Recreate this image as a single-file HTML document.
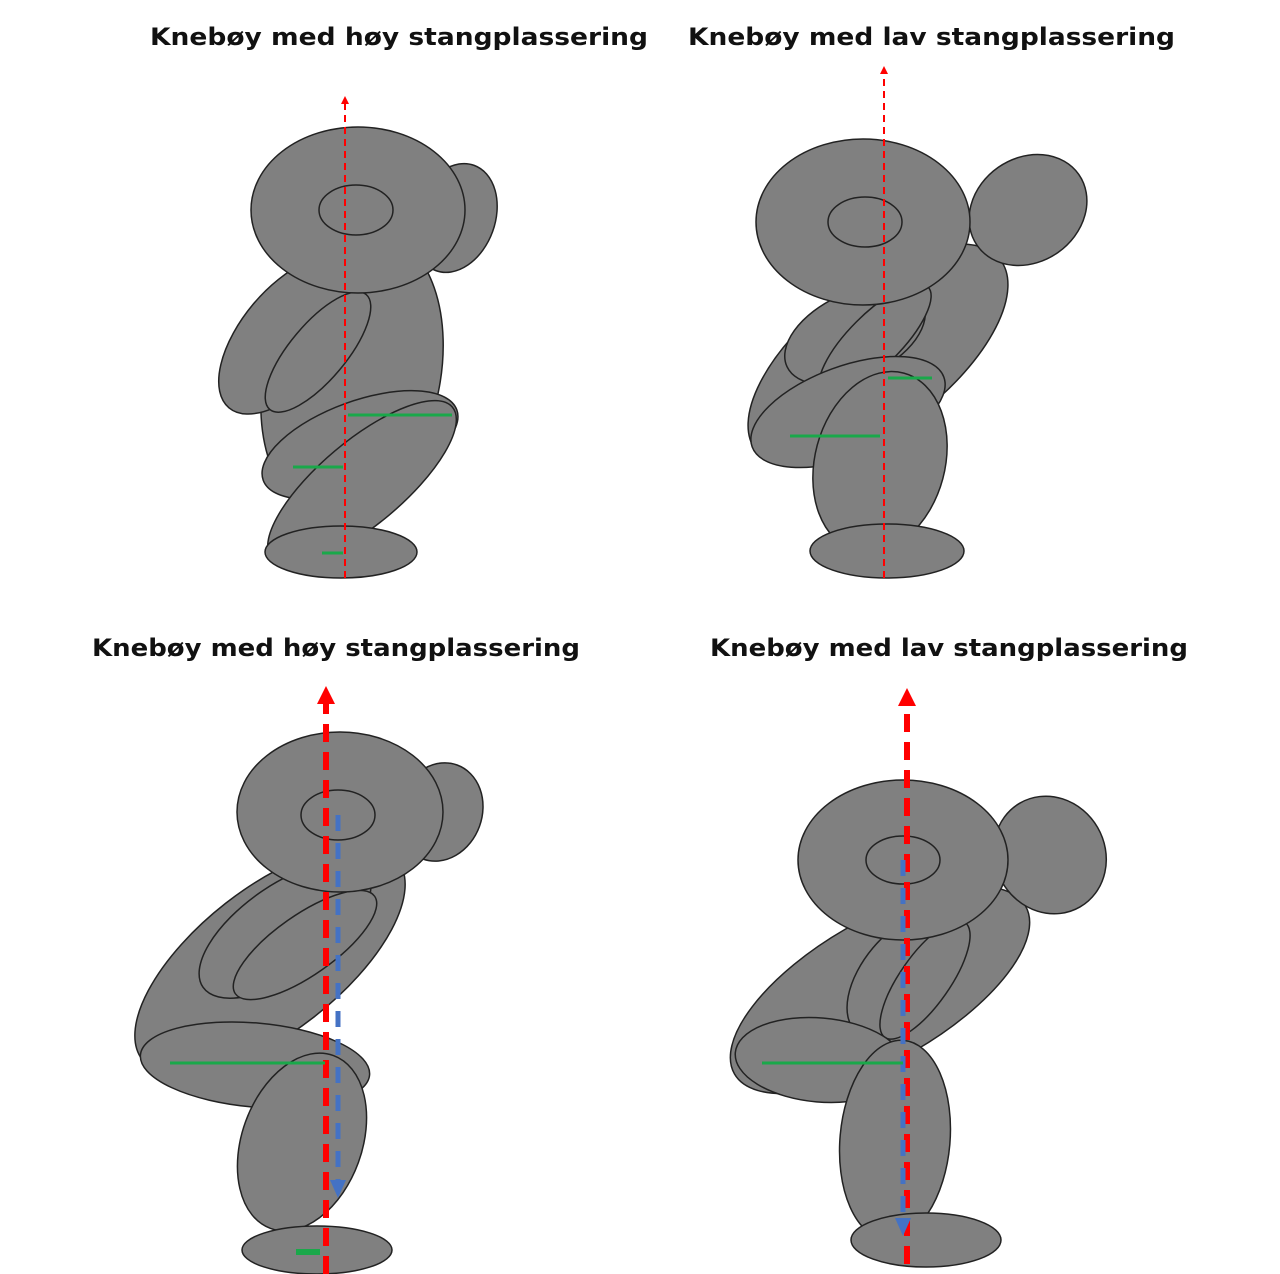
<!DOCTYPE html>
<html><head><meta charset="utf-8"><style>
html,body{margin:0;padding:0;background:#fff}
svg{display:block}
text{font-family:"DejaVu Sans","Liberation Sans",sans-serif;font-weight:bold;font-size:24px;fill:#111}
.b{fill:#808080;stroke:#222;stroke-width:1.5}
</style></head><body>
<svg width="1280" height="1274" viewBox="0 0 1280 1274" xmlns="http://www.w3.org/2000/svg">
<text x="150" y="45" textLength="498" lengthAdjust="spacingAndGlyphs">Knebøy med høy stangplassering</text>
<text x="688" y="45" textLength="487" lengthAdjust="spacingAndGlyphs">Knebøy med lav stangplassering</text>
<text x="92" y="656" textLength="488" lengthAdjust="spacingAndGlyphs">Knebøy med høy stangplassering</text>
<text x="710" y="656" textLength="478" lengthAdjust="spacingAndGlyphs">Knebøy med lav stangplassering</text>

<!-- Figure 1 -->
<ellipse class="b" cx="352" cy="375" rx="88" ry="145" transform="rotate(12 352 375)"/>
<ellipse class="b" cx="455" cy="218" rx="40" ry="56" transform="rotate(20 455 218)"/>
<ellipse class="b" cx="290" cy="335" rx="95" ry="48" transform="rotate(-50 290 335)"/>
<ellipse class="b" cx="318" cy="352" rx="75" ry="28" transform="rotate(-50 318 352)"/>
<ellipse class="b" cx="358" cy="210" rx="107" ry="83"/>
<ellipse class="b" cx="356" cy="210" rx="37" ry="25"/>
<ellipse class="b" cx="360" cy="445" rx="103" ry="44" transform="rotate(-20 360 445)"/>
<ellipse class="b" cx="362" cy="483" rx="118" ry="42" transform="rotate(-40 362 483)"/>
<ellipse class="b" cx="341" cy="552" rx="76" ry="26"/>
<line x1="345" y1="578" x2="345" y2="104" stroke="#f00" stroke-width="2" stroke-dasharray="7,5"/>
<polygon points="345,96 341,104 349,104" fill="#f00"/>
<g stroke="#1aa84a" stroke-width="3"><line x1="348" y1="415" x2="452" y2="415"/><line x1="293" y1="467" x2="343" y2="467"/><line x1="322" y1="553" x2="343" y2="553"/></g>

<!-- Figure 2 -->
<ellipse class="b" cx="878" cy="355" rx="155" ry="72" transform="rotate(-38 878 355)"/>
<ellipse class="b" cx="1028" cy="210" rx="62" ry="52" transform="rotate(-35 1028 210)"/>
<ellipse class="b" cx="855" cy="335" rx="75" ry="42" transform="rotate(-25 855 335)"/>
<ellipse class="b" cx="875" cy="340" rx="75" ry="26" transform="rotate(-45 875 340)"/>
<ellipse class="b" cx="863" cy="222" rx="107" ry="83"/>
<ellipse class="b" cx="865" cy="222" rx="37" ry="25"/>
<ellipse class="b" cx="848" cy="412" rx="102" ry="46" transform="rotate(-20 848 412)"/>
<ellipse class="b" cx="880" cy="462" rx="65" ry="92" transform="rotate(15 880 462)"/>
<ellipse class="b" cx="887" cy="551" rx="77" ry="27"/>
<line x1="884" y1="578" x2="884" y2="74" stroke="#f00" stroke-width="2" stroke-dasharray="7,5"/>
<polygon points="884,66 880,74 888,74" fill="#f00"/>
<g stroke="#1aa84a" stroke-width="3"><line x1="888" y1="378" x2="932" y2="378"/><line x1="790" y1="436" x2="880" y2="436"/></g>

<!-- Figure 3 -->
<ellipse class="b" cx="270" cy="960" rx="162" ry="72" transform="rotate(-38 270 960)"/>
<ellipse class="b" cx="440" cy="812" rx="42" ry="50" transform="rotate(20 440 812)"/>
<ellipse class="b" cx="285" cy="930" rx="100" ry="45" transform="rotate(-35 285 930)"/>
<ellipse class="b" cx="305" cy="945" rx="85" ry="30" transform="rotate(-35 305 945)"/>
<ellipse class="b" cx="340" cy="812" rx="103" ry="80"/>
<ellipse class="b" cx="338" cy="815" rx="37" ry="25"/>
<ellipse class="b" cx="255" cy="1065" rx="115" ry="42" transform="rotate(5 255 1065)"/>
<ellipse class="b" cx="302" cy="1142" rx="60" ry="92" transform="rotate(20 302 1142)"/>
<ellipse class="b" cx="317" cy="1250" rx="75" ry="24"/>
<line x1="326" y1="1274" x2="326" y2="704" stroke="#f00" stroke-width="6" stroke-dasharray="18,10"/>
<polygon points="326,686 317,704 335,704" fill="#f00"/>
<line x1="338" y1="815" x2="338" y2="1182" stroke="#4472c4" stroke-width="5" stroke-dasharray="16,12"/>
<polygon points="338,1198 330,1180 346,1180" fill="#4472c4"/>
<g stroke="#1aa84a"><line x1="170" y1="1063" x2="325" y2="1063" stroke-width="3"/><line x1="296" y1="1252" x2="320" y2="1252" stroke-width="6"/></g>

<!-- Figure 4 -->
<ellipse class="b" cx="880" cy="990" rx="168" ry="70" transform="rotate(-30 880 990)"/>
<ellipse class="b" cx="1050" cy="855" rx="55" ry="60" transform="rotate(-30 1050 855)"/>
<ellipse class="b" cx="905" cy="975" rx="75" ry="42" transform="rotate(-50 905 975)"/>
<ellipse class="b" cx="925" cy="980" rx="70" ry="25" transform="rotate(-55 925 980)"/>
<ellipse class="b" cx="903" cy="860" rx="105" ry="80"/>
<ellipse class="b" cx="903" cy="860" rx="37" ry="24"/>
<ellipse class="b" cx="820" cy="1060" rx="85" ry="42" transform="rotate(5 820 1060)"/>
<ellipse class="b" cx="895" cy="1140" rx="55" ry="100" transform="rotate(5 895 1140)"/>
<ellipse class="b" cx="926" cy="1240" rx="75" ry="27"/>
<line x1="907" y1="1264" x2="907" y2="706" stroke="#f00" stroke-width="6" stroke-dasharray="18,10"/>
<polygon points="907,688 898,706 916,706" fill="#f00"/>
<line x1="903" y1="860" x2="903" y2="1220" stroke="#4472c4" stroke-width="5" stroke-dasharray="16,12"/>
<polygon points="903,1236 895,1218 911,1218" fill="#4472c4"/>
<line x1="762" y1="1063" x2="903" y2="1063" stroke="#1aa84a" stroke-width="3"/>
</svg>
</body></html>
